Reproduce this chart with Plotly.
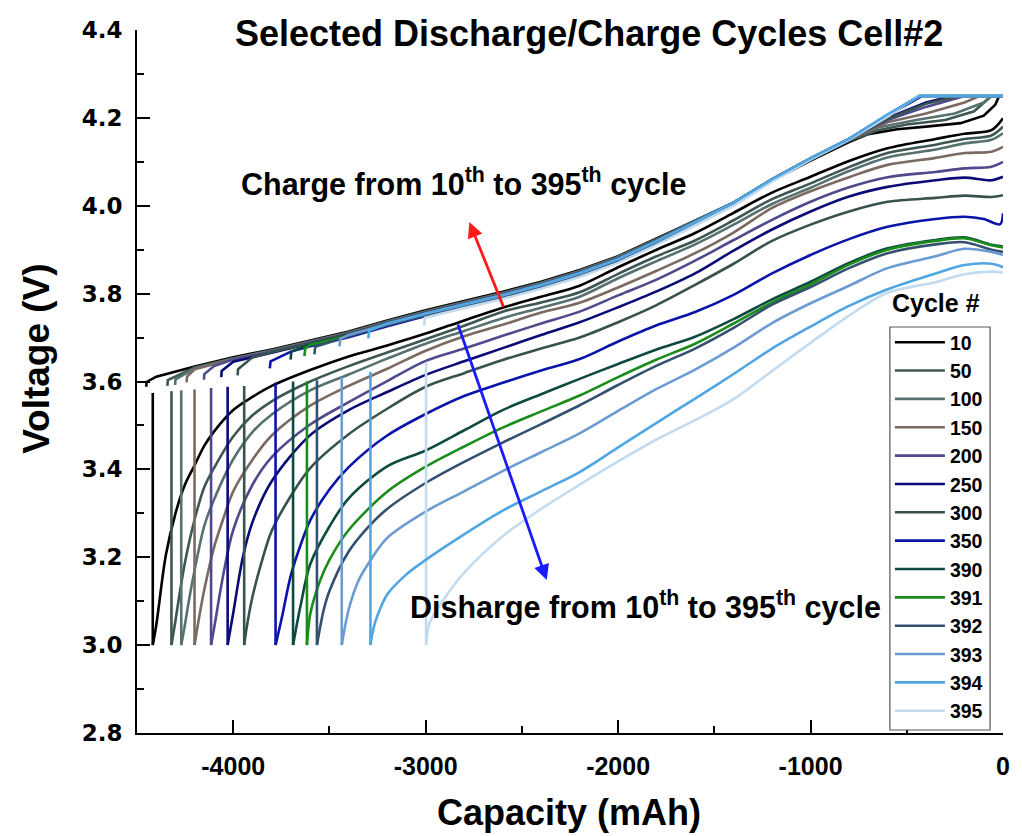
import plotly.graph_objects as go

CYCLES = ["10", "50", "100", "150", "200", "250", "300", "350", "390", "391", "392", "393", "394", "395"]
COLORS = ["#000000", "#3e5753", "#56716f", "#7a6a62", "#4e4a8c", "#0b0b78", "#38524e",
          "#0a14a8", "#0f4a40", "#1a8c1a", "#34506f", "#6b9bd2", "#4fa6e3", "#c3dbee"]

# ---- discharge curves (capacity mAh, voltage V) ----
DIS_CAP_10 = [0, -60, -200, -350, -600, -800, -1000, -1200, -1400, -1600, -1800, -2000, -2200, -2400, -2600, -2800, -3000, -3200, -3400, -3600, -3800, -3900, -4000, -4100, -4150, -4200, -4250, -4300, -4350, -4400, -4418]
DIS_V_10 = [4.199, 4.172, 4.164, 4.152, 4.131, 4.102, 4.066, 4.030, 3.984, 3.938, 3.900, 3.860, 3.818, 3.793, 3.768, 3.739, 3.709, 3.682, 3.657, 3.626, 3.590, 3.565, 3.535, 3.486, 3.454, 3.410, 3.366, 3.300, 3.205, 3.045, 3.000]

DIS_CAP_50 = [0, -60, -200, -350, -600, -800, -1000, -1200, -1400, -1600, -1800, -2000, -2200, -2400, -2600, -2800, -3000, -3200, -3400, -3600, -3800, -3900, -4000, -4100, -4150, -4200, -4250, -4280, -4300, -4321]
DIS_V_50 = [4.180, 4.160, 4.152, 4.139, 4.120, 4.088, 4.051, 4.015, 3.967, 3.921, 3.885, 3.845, 3.803, 3.780, 3.759, 3.727, 3.696, 3.666, 3.635, 3.600, 3.555, 3.523, 3.475, 3.403, 3.360, 3.287, 3.190, 3.113, 3.056, 3.000]

DIS_CAP_100 = [0, -60, -200, -350, -600, -800, -1000, -1200, -1400, -1600, -1800, -2000, -2200, -2400, -2600, -2800, -3000, -3200, -3400, -3600, -3800, -3900, -4000, -4100, -4150, -4200, -4230, -4250, -4270]
DIS_V_100 = [4.165, 4.150, 4.142, 4.128, 4.110, 4.079, 4.041, 4.004, 3.957, 3.912, 3.874, 3.835, 3.793, 3.768, 3.744, 3.715, 3.686, 3.652, 3.616, 3.580, 3.525, 3.485, 3.423, 3.331, 3.272, 3.172, 3.102, 3.049, 3.000]

DIS_CAP_150 = [0, -60, -200, -350, -600, -800, -1000, -1200, -1400, -1600, -1800, -2000, -2200, -2400, -2600, -2800, -3000, -3200, -3400, -3600, -3800, -3900, -4000, -4050, -4100, -4150, -4180, -4201]
DIS_V_150 = [4.134, 4.123, 4.120, 4.109, 4.093, 4.065, 4.033, 3.995, 3.939, 3.892, 3.852, 3.814, 3.779, 3.757, 3.729, 3.703, 3.670, 3.629, 3.590, 3.545, 3.477, 3.422, 3.350, 3.290, 3.222, 3.127, 3.056, 3.000]

DIS_CAP_200 = [0, -60, -200, -350, -600, -800, -1000, -1200, -1400, -1600, -1800, -2000, -2200, -2400, -2600, -2800, -3000, -3200, -3400, -3600, -3800, -3900, -4000, -4050, -4100, -4115]
DIS_V_200 = [4.100, 4.089, 4.085, 4.077, 4.065, 4.042, 4.009, 3.968, 3.922, 3.875, 3.832, 3.796, 3.759, 3.732, 3.704, 3.675, 3.647, 3.601, 3.553, 3.502, 3.428, 3.365, 3.262, 3.164, 3.037, 3.000]

DIS_CAP_250 = [0, -60, -200, -350, -600, -800, -1000, -1200, -1400, -1600, -1800, -2000, -2200, -2400, -2600, -2800, -3000, -3200, -3400, -3600, -3800, -3900, -3950, -4000, -4029]
DIS_V_250 = [4.066, 4.058, 4.064, 4.058, 4.043, 4.021, 3.987, 3.946, 3.898, 3.846, 3.805, 3.769, 3.735, 3.706, 3.676, 3.646, 3.615, 3.576, 3.535, 3.478, 3.373, 3.280, 3.200, 3.073, 3.000]

DIS_CAP_300 = [0, -60, -200, -350, -600, -800, -1000, -1200, -1400, -1600, -1800, -2000, -2200, -2400, -2600, -2800, -3000, -3200, -3400, -3600, -3700, -3800, -3850, -3900, -3930, -3943]
DIS_V_300 = [4.024, 4.020, 4.023, 4.018, 4.009, 3.987, 3.957, 3.920, 3.868, 3.820, 3.774, 3.735, 3.700, 3.675, 3.649, 3.619, 3.588, 3.538, 3.480, 3.403, 3.340, 3.260, 3.193, 3.110, 3.040, 3.000]

DIS_CAP_350 = [0, -15, -100, -200, -350, -600, -800, -1000, -1200, -1400, -1600, -1800, -2000, -2200, -2400, -2600, -2800, -3000, -3200, -3400, -3500, -3600, -3650, -3700, -3750, -3780]
DIS_V_350 = [3.983, 3.958, 3.970, 3.975, 3.970, 3.952, 3.924, 3.888, 3.846, 3.797, 3.758, 3.728, 3.691, 3.651, 3.625, 3.597, 3.567, 3.526, 3.477, 3.405, 3.354, 3.284, 3.228, 3.160, 3.057, 3.000]

DIS_CAP_390 = [0, -60, -200, -350, -600, -800, -1000, -1200, -1400, -1600, -1800, -2000, -2200, -2400, -2600, -2800, -3000, -3200, -3400, -3500, -3600, -3650, -3689]
DIS_V_390 = [3.907, 3.911, 3.928, 3.922, 3.903, 3.870, 3.827, 3.787, 3.742, 3.702, 3.673, 3.640, 3.606, 3.571, 3.535, 3.489, 3.443, 3.407, 3.334, 3.270, 3.184, 3.090, 3.000]

DIS_CAP_391 = [0, -60, -200, -350, -600, -800, -1000, -1200, -1400, -1600, -1800, -2000, -2200, -2400, -2600, -2800, -3000, -3200, -3400, -3500, -3550, -3600, -3617]
DIS_V_391 = [3.905, 3.910, 3.926, 3.920, 3.900, 3.866, 3.821, 3.780, 3.732, 3.686, 3.650, 3.610, 3.568, 3.532, 3.495, 3.452, 3.406, 3.349, 3.262, 3.194, 3.145, 3.070, 3.000]

DIS_CAP_392 = [0, -60, -200, -350, -600, -800, -1000, -1200, -1400, -1600, -1800, -2000, -2200, -2400, -2600, -2800, -3000, -3200, -3300, -3400, -3500, -3530, -3565]
DIS_V_392 = [3.895, 3.900, 3.917, 3.912, 3.892, 3.858, 3.815, 3.775, 3.722, 3.675, 3.636, 3.592, 3.546, 3.503, 3.461, 3.417, 3.369, 3.310, 3.268, 3.213, 3.123, 3.080, 3.000]

DIS_CAP_393 = [0, -60, -200, -350, -600, -800, -1000, -1200, -1400, -1600, -1800, -2000, -2200, -2400, -2600, -2800, -3000, -3200, -3300, -3350, -3400, -3436]
DIS_V_393 = [3.888, 3.895, 3.902, 3.885, 3.858, 3.818, 3.778, 3.733, 3.677, 3.627, 3.583, 3.533, 3.482, 3.439, 3.396, 3.350, 3.304, 3.244, 3.184, 3.146, 3.081, 3.000]

DIS_CAP_394 = [0, -60, -200, -350, -600, -800, -1000, -1200, -1400, -1600, -1800, -2000, -2200, -2400, -2600, -2800, -3000, -3100, -3200, -3250, -3270, -3287]
DIS_V_394 = [3.860, 3.868, 3.865, 3.846, 3.810, 3.772, 3.725, 3.675, 3.617, 3.561, 3.506, 3.450, 3.394, 3.350, 3.306, 3.252, 3.194, 3.161, 3.115, 3.068, 3.040, 3.000]

DIS_CAP_395 = [0, -60, -200, -350, -600, -800, -1000, -1200, -1400, -1600, -1800, -2000, -2200, -2400, -2600, -2800, -2900, -2980, -2998]
DIS_V_395 = [3.848, 3.850, 3.844, 3.826, 3.802, 3.750, 3.688, 3.624, 3.560, 3.512, 3.468, 3.418, 3.365, 3.310, 3.248, 3.165, 3.108, 3.050, 3.000]

# voltage reached at the end of the rest after discharge (top of the vertical lines)
REST_TOP_V = [3.574, 3.578, 3.580, 3.582, 3.585, 3.588, 3.590, 3.597, 3.600, 3.600, 3.603, 3.610, 3.622, 3.642]

# ---- charge curves (capacity mAh, voltage V) ----
CHG_CAP_10 = [-4452, -4450, -4400, -4200, -4000, -3800, -3600, -3400, -3200, -3000, -2800, -2600, -2400, -2200, -2000, -1800, -1600, -1400, -1200, -1000, -800, -700, -550, -400, -220, -100, -40, -20, 0]
CHG_V_10 = [3.588, 3.599, 3.611, 3.634, 3.655, 3.673, 3.693, 3.714, 3.739, 3.762, 3.783, 3.804, 3.827, 3.854, 3.885, 3.925, 3.966, 4.007, 4.057, 4.103, 4.145, 4.163, 4.174, 4.180, 4.188, 4.205, 4.230, 4.250, 4.250]

CHG_CAP_50 = [-4342, -4340, -4200, -4000, -3800, -3600, -3400, -3200, -3000, -2800, -2600, -2400, -2200, -2000, -1800, -1600, -1400, -1200, -1000, -800, -650, -500, -300, -150, -60, 0]
CHG_V_50 = [3.590, 3.603, 3.632, 3.653, 3.671, 3.691, 3.712, 3.737, 3.760, 3.781, 3.802, 3.825, 3.852, 3.884, 3.924, 3.966, 4.007, 4.058, 4.105, 4.148, 4.172, 4.185, 4.195, 4.215, 4.250, 4.250]

CHG_CAP_100 = [-4302, -4300, -4200, -4000, -3800, -3600, -3400, -3200, -3000, -2800, -2600, -2400, -2200, -2000, -1800, -1600, -1400, -1200, -1000, -800, -650, -450, -250, -100, -60, 0]
CHG_V_100 = [3.592, 3.605, 3.630, 3.652, 3.670, 3.690, 3.711, 3.736, 3.759, 3.780, 3.801, 3.824, 3.851, 3.883, 3.923, 3.965, 4.007, 4.059, 4.106, 4.150, 4.178, 4.195, 4.210, 4.235, 4.250, 4.250]

CHG_CAP_150 = [-4242, -4240, -4200, -4000, -3800, -3600, -3400, -3200, -3000, -2800, -2600, -2400, -2200, -2000, -1800, -1600, -1400, -1200, -1000, -800, -600, -400, -200, -120, 0]
CHG_V_150 = [3.598, 3.611, 3.628, 3.651, 3.669, 3.689, 3.710, 3.735, 3.758, 3.779, 3.800, 3.823, 3.850, 3.882, 3.922, 3.964, 4.007, 4.059, 4.107, 4.150, 4.190, 4.210, 4.235, 4.250, 4.250]

CHG_CAP_200 = [-4152, -4150, -4100, -4000, -3800, -3600, -3400, -3200, -3000, -2800, -2600, -2400, -2200, -2000, -1800, -1600, -1400, -1200, -1000, -800, -600, -400, -200, 0]
CHG_V_200 = [3.604, 3.617, 3.635, 3.650, 3.668, 3.688, 3.709, 3.734, 3.757, 3.778, 3.799, 3.822, 3.849, 3.881, 3.921, 3.964, 4.007, 4.060, 4.108, 4.151, 4.195, 4.225, 4.250, 4.250]

CHG_CAP_250 = [-4062, -4060, -4000, -3800, -3600, -3400, -3200, -3000, -2800, -2600, -2400, -2200, -2000, -1800, -1600, -1400, -1200, -1000, -800, -600, -400, -260, 0]
CHG_V_250 = [3.610, 3.624, 3.645, 3.666, 3.686, 3.707, 3.732, 3.755, 3.776, 3.797, 3.820, 3.847, 3.879, 3.920, 3.963, 4.007, 4.060, 4.108, 4.151, 4.200, 4.235, 4.250, 4.250]

CHG_CAP_300 = [-3977, -3975, -3900, -3800, -3600, -3400, -3200, -3000, -2800, -2600, -2400, -2200, -2000, -1800, -1600, -1400, -1200, -1000, -800, -600, -400, -230, 0]
CHG_V_300 = [3.614, 3.628, 3.655, 3.667, 3.687, 3.708, 3.733, 3.756, 3.777, 3.798, 3.821, 3.848, 3.880, 3.921, 3.963, 4.007, 4.060, 4.108, 4.151, 4.198, 4.232, 4.250, 4.250]

CHG_CAP_350 = [-3810, -3806, -3700, -3600, -3400, -3200, -3000, -2800, -2600, -2400, -2200, -2000, -1800, -1600, -1400, -1200, -1000, -800, -600, -420, 0]
CHG_V_350 = [3.630, 3.646, 3.668, 3.680, 3.701, 3.726, 3.749, 3.770, 3.791, 3.814, 3.841, 3.873, 3.914, 3.958, 4.003, 4.057, 4.106, 4.150, 4.205, 4.250, 4.250]

CHG_CAP_390 = [-3702, -3698, -3600, -3400, -3200, -3000, -2800, -2600, -2400, -2200, -2000, -1800, -1600, -1400, -1200, -1000, -800, -600, -430, 0]
CHG_V_390 = [3.650, 3.668, 3.684, 3.705, 3.730, 3.753, 3.774, 3.795, 3.818, 3.845, 3.877, 3.918, 3.961, 4.006, 4.060, 4.108, 4.152, 4.205, 4.250, 4.250]

CHG_CAP_391 = [-3630, -3626, -3600, -3400, -3200, -3000, -2800, -2600, -2400, -2200, -2000, -1800, -1600, -1400, -1200, -1000, -800, -600, -435, 0]
CHG_V_391 = [3.658, 3.675, 3.683, 3.704, 3.729, 3.752, 3.773, 3.794, 3.817, 3.844, 3.876, 3.917, 3.960, 4.006, 4.060, 4.108, 4.152, 4.205, 4.250, 4.250]

CHG_CAP_392 = [-3578, -3574, -3400, -3200, -3000, -2800, -2600, -2400, -2200, -2000, -1800, -1600, -1400, -1200, -1000, -800, -600, -435, 0]
CHG_V_392 = [3.662, 3.679, 3.703, 3.728, 3.751, 3.772, 3.793, 3.816, 3.843, 3.875, 3.916, 3.959, 4.006, 4.060, 4.108, 4.152, 4.205, 4.250, 4.250]

CHG_CAP_393 = [-3448, -3444, -3400, -3200, -3000, -2800, -2600, -2400, -2200, -2000, -1800, -1600, -1400, -1200, -1000, -800, -600, -440, 0]
CHG_V_393 = [3.680, 3.697, 3.706, 3.731, 3.754, 3.775, 3.796, 3.819, 3.846, 3.878, 3.919, 3.962, 4.007, 4.060, 4.108, 4.152, 4.205, 4.250, 4.250]

CHG_CAP_394 = [-3298, -3294, -3200, -3000, -2800, -2600, -2400, -2200, -2000, -1800, -1600, -1400, -1200, -1000, -800, -600, -450, -430, 0]
CHG_V_394 = [3.698, 3.716, 3.732, 3.755, 3.776, 3.797, 3.820, 3.847, 3.879, 3.920, 3.963, 4.007, 4.060, 4.108, 4.152, 4.208, 4.245, 4.250, 4.250]

CHG_CAP_395 = [-3008, -3004, -2800, -2600, -2400, -2200, -2000, -1800, -1600, -1400, -1200, -1000, -800, -600, -440, 0]
CHG_V_395 = [3.728, 3.745, 3.767, 3.788, 3.811, 3.838, 3.870, 3.911, 3.955, 4.000, 4.055, 4.105, 4.150, 4.203, 4.250, 4.250]

X_TICKS = [-4000, -3000, -2000, -1000, 0]
X_TICK_TEXT = ["-4000", "-3000", "-2000", "-1000", "0"]
Y_TICKS = [2.8, 3.0, 3.2, 3.4, 3.6, 3.8, 4.0, 4.2, 4.4]
Y_TICK_TEXT = ["2.8", "3.0", "3.2", "3.4", "3.6", "3.8", "4.0", "4.2", "4.4"]

SERIES = [
    (DIS_CAP_10, DIS_V_10, CHG_CAP_10, CHG_V_10),
    (DIS_CAP_50, DIS_V_50, CHG_CAP_50, CHG_V_50),
    (DIS_CAP_100, DIS_V_100, CHG_CAP_100, CHG_V_100),
    (DIS_CAP_150, DIS_V_150, CHG_CAP_150, CHG_V_150),
    (DIS_CAP_200, DIS_V_200, CHG_CAP_200, CHG_V_200),
    (DIS_CAP_250, DIS_V_250, CHG_CAP_250, CHG_V_250),
    (DIS_CAP_300, DIS_V_300, CHG_CAP_300, CHG_V_300),
    (DIS_CAP_350, DIS_V_350, CHG_CAP_350, CHG_V_350),
    (DIS_CAP_390, DIS_V_390, CHG_CAP_390, CHG_V_390),
    (DIS_CAP_391, DIS_V_391, CHG_CAP_391, CHG_V_391),
    (DIS_CAP_392, DIS_V_392, CHG_CAP_392, CHG_V_392),
    (DIS_CAP_393, DIS_V_393, CHG_CAP_393, CHG_V_393),
    (DIS_CAP_394, DIS_V_394, CHG_CAP_394, CHG_V_394),
    (DIS_CAP_395, DIS_V_395, CHG_CAP_395, CHG_V_395),
]

ARIAL = "Liberation Sans, Arial, sans-serif"
LW = 2.6

fig = go.Figure()
draw_order = list(range(12)) + [13, 12]
for i in draw_order:
    dc, dv, cc, cv = SERIES[i]
    name = CYCLES[i]
    col = COLORS[i]
    fig.add_trace(go.Scatter(
        x=dc, y=dv, mode="lines", name=name, legendgroup=name, legendrank=i + 1,
        line=dict(color=col, width=LW, shape="spline", smoothing=0.9),
        hoverinfo="skip"))
    # rest (vertical line) then charge, drawn as separate pieces
    fig.add_trace(go.Scatter(
        x=[dc[-1], dc[-1], None] + cc, y=[dv[-1], REST_TOP_V[i], None] + cv, mode="lines",
        showlegend=False, legendgroup=name, connectgaps=False,
        line=dict(color=col, width=LW), hoverinfo="skip"))

axis_common = dict(
    showline=True, linecolor="black", linewidth=1.6, mirror=False,
    ticks="inside", ticklen=13, tickwidth=1.6, tickcolor="black",
    showgrid=False, zeroline=False,
)

fig.update_layout(
    width=1022, height=836,
    margin=dict(l=137, r=12, t=30, b=103),
    paper_bgcolor="white", plot_bgcolor="white",
    xaxis=dict(
        range=[-4500, 0], tickvals=X_TICKS, ticktext=X_TICK_TEXT,
        tickfont=dict(family=ARIAL, size=25, color="black", weight="bold"),
        minor=dict(dtick=500, tick0=0, ticks="inside", ticklen=7, tickwidth=1.6, tickcolor="black", showgrid=False),
        ticklabelstandoff=10,
        **axis_common),
    yaxis=dict(
        range=[2.8, 4.4], tickvals=Y_TICKS, ticktext=Y_TICK_TEXT,
        tickfont=dict(family="DejaVu Sans", size=23, color="black", weight="bold"),
        minor=dict(dtick=0.1, tick0=2.8, ticks="inside", ticklen=7, tickwidth=1.6, tickcolor="black", showgrid=False),
        ticklabelstandoff=8,
        **axis_common),
    showlegend=True,
    legend=dict(
        x=0.8694, xanchor="left", y=0.5832, yanchor="top",
        bgcolor="rgba(0,0,0,0)", borderwidth=0,
        font=dict(family=ARIAL, size=19.5, color="black", weight="bold"),
        tracegroupgap=0, itemwidth=50,
    ),
    shapes=[dict(type="rect", xref="paper", yref="paper",
                 x0=0.8694, x1=0.9851, y0=0.0043, y1=0.5775,
                 line=dict(color="#555555", width=1.2), fillcolor="white", layer="above")],
    annotations=[
        dict(text="Selected Discharge/Charge Cycles Cell#2", xref="paper", yref="paper",
             x=0.522, y=0.995, xanchor="center", yanchor="middle", showarrow=False,
             font=dict(family=ARIAL, size=36, color="black", weight="bold")),
        dict(text="Capacity (mAh)", xref="paper", yref="paper",
             x=0.4994, y=-0.1135, xanchor="center", yanchor="middle", showarrow=False,
             font=dict(family=ARIAL, size=36, color="black", weight="bold")),
        dict(text="Voltage (V)", xref="paper", yref="paper", textangle=-90,
             x=-0.1168, y=0.5334, xanchor="center", yanchor="middle", showarrow=False,
             font=dict(family=ARIAL, size=37, color="black", weight="bold")),
        dict(text="Charge from 10<sup>th</sup> to 395<sup>th</sup> cycle", xref="x", yref="y",
             x=-2804, y=4.052, xanchor="center", yanchor="middle", showarrow=False,
             font=dict(family=ARIAL, size=30.5, color="black", weight="bold")),
        dict(text="Disharge from 10<sup>th</sup> to 395<sup>th</sup> cycle", xref="x", yref="y",
             x=-1856, y=3.091, xanchor="center", yanchor="middle", showarrow=False,
             font=dict(family=ARIAL, size=30.5, color="black", weight="bold")),
        dict(text="", xref="x", yref="y", axref="x", ayref="y",
             x=-2773, y=3.963, ax=-2593, ay=3.767, showarrow=True,
             arrowhead=2, arrowsize=1.1, arrowwidth=2.8, arrowcolor="#ff1a1a"),
        dict(text="", xref="x", yref="y", axref="x", ayref="y",
             x=-2371, y=3.148, ax=-2835, ay=3.733, showarrow=True,
             arrowhead=2, arrowsize=1.1, arrowwidth=2.8, arrowcolor="#1a1aff"),
        dict(text="Cycle #", xref="paper", yref="paper",
             x=0.923, y=0.612, xanchor="center", yanchor="middle", showarrow=False,
             font=dict(family=ARIAL, size=25, color="black", weight="bold")),
    ],
)

fig.write_html("out.html")
